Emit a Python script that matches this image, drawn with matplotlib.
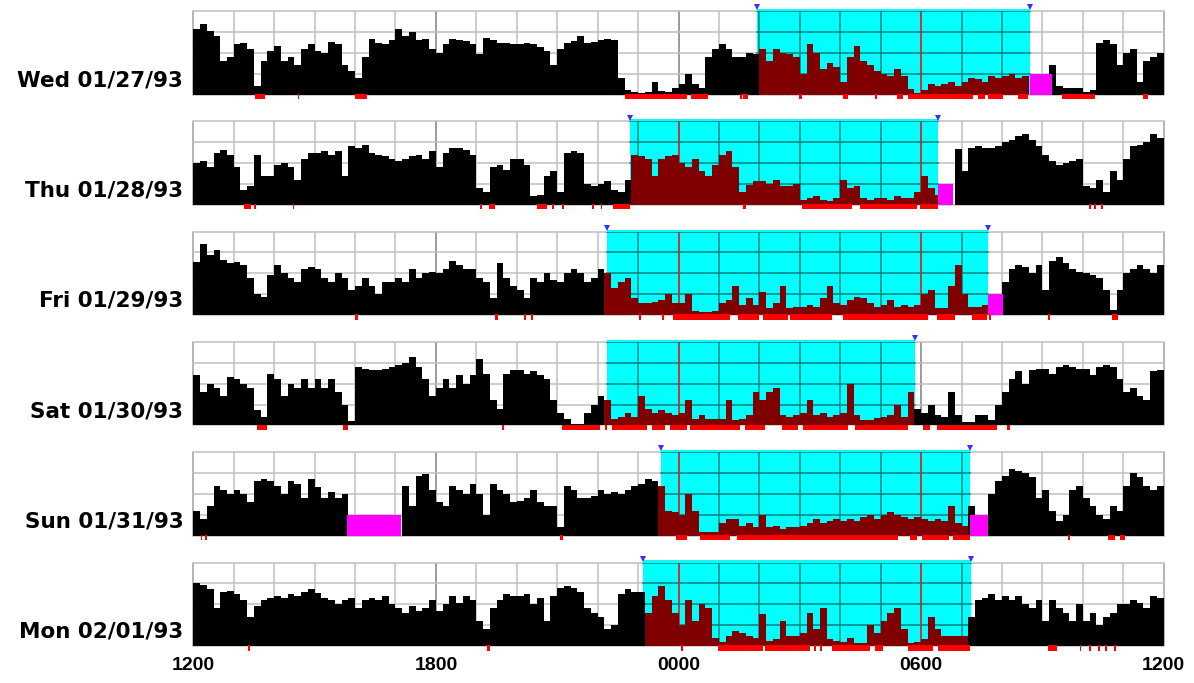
import matplotlib
matplotlib.use("Agg")
import matplotlib.pyplot as plt
from matplotlib.patches import Rectangle

# ---------------- data (hours after 12:00 noon, 10-minute bins) ----------------
day_labels = ["Wed 01/27/93", "Thu 01/28/93", "Fri 01/29/93",
              "Sat 01/30/93", "Sun 01/31/93", "Mon 02/01/93"]
tick_hours = [0, 6, 12, 18, 24]
tick_labels = ["1200", "1800", "0000", "0600", "1200"]

wed_counts = [
    78, 84, 76, 70, 40, 45,  60, 62, 55, 10, 40, 52,  58, 40, 45, 35, 55, 60,
    52, 50, 63, 60, 35, 28,  20, 45, 67, 62, 60, 65,  78, 70, 75, 65, 66, 55,
    50, 60, 66, 65, 64, 60,  48, 68, 65, 62, 62, 60,  60, 62, 60, 57, 52, 35,
    55, 62, 64, 70, 62, 63,  65, 66, 65, 20, 5, 3,    2, 3, 15, 4, 3, 8,
    12, 25, 12, 8, 45, 55,   60, 55, 45, 45, 50, 48,  55, 40, 55, 50, 48, 45,
    25, 60, 50, 30, 38, 33,  15, 45, 58, 40, 35, 28,  25, 22, 30, 22, 6, 2,
    5, 12, 10, 12, 15, 10,   15, 20, 18, 15, 22, 20,  22, 25, 20, 22, 0, 0,
    0, 35, 10, 8, 8, 8,      3, 5, 62, 65, 60, 35,    50, 55, 15, 40, 45, 50]
thu_counts = [
    50, 52, 45, 62, 66, 60,  45, 18, 22, 60, 35, 35,  48, 50, 45, 30, 55, 62,
    62, 65, 60, 65, 35, 70,  68, 72, 62, 60, 58, 55,  52, 55, 58, 60, 55, 65,
    45, 62, 68, 68, 66, 60,  20, 15, 45, 48, 42, 55,  55, 48, 10, 12, 35, 40,
    15, 62, 64, 62, 25, 22,  25, 28, 18, 15, 30, 60,  58, 55, 35, 55, 58, 60,
    50, 45, 55, 40, 35, 48,  60, 65, 45, 15, 24, 28,  28, 25, 30, 22, 22, 25,
    6, 8, 10, 6, 5, 8,       30, 20, 22, 8, 6, 8,     8, 6, 10, 8, 8, 15,
    35, 20, 12, 0, 0, 67,    40, 68, 70, 68, 68, 70,  75, 78, 82, 85, 78, 70,
    60, 52, 48, 50, 52, 55,  22, 20, 30, 15, 40, 30,  55, 70, 72, 75, 85, 80]
fri_counts = [
    64, 85, 72, 78, 66, 62,  64, 60, 45, 25, 22, 48,  60, 50, 45, 40, 55, 58,
    55, 45, 40, 50, 45, 30,  35, 45, 35, 25, 40, 40,  45, 40, 55, 45, 50, 52,
    50, 55, 65, 60, 55, 55,  45, 40, 20, 62, 45, 35,  30, 20, 45, 40, 50, 42,
    40, 50, 55, 50, 40, 45,  55, 50, 32, 40, 45, 20,  14, 14, 16, 18, 25, 15,
    15, 25, 5, 4, 4, 5,      15, 18, 35, 12, 20, 12,  28, 8, 15, 35, 8, 10,
    10, 12, 10, 20, 35, 15,  12, 18, 22, 20, 15, 10,  12, 18, 10, 12, 10, 12,
    25, 30, 8, 8, 35, 60,    25, 10, 10, 12, 0, 0,    40, 55, 60, 58, 50, 60,
    30, 65, 70, 62, 55, 52,  50, 48, 45, 30, 6, 30,   50, 55, 60, 55, 50, 60]
sat_counts = [
    60, 40, 50, 45, 35, 58,  55, 50, 45, 18, 10, 62,  55, 35, 50, 45, 55, 45,
    55, 45, 55, 40, 25, 5,   70, 68, 66, 66, 68, 70,  72, 75, 82, 70, 55, 35,
    45, 55, 45, 60, 50, 60,  80, 62, 30, 20, 62, 66,  66, 62, 65, 60, 55, 30,
    15, 8, 2, 2, 15, 25,     35, 30, 8, 10, 15, 10,   35, 20, 15, 18, 15, 12,
    15, 30, 8, 12, 8, 8,     8, 30, 6, 8, 12, 40,     30, 40, 45, 12, 10, 12,
    15, 30, 12, 15, 10, 12,  15, 50, 12, 7, 7, 9,     10, 12, 25, 10, 40, 20,
    15, 25, 12, 10, 40, 12,  4, 4, 12, 12, 6, 25,     40, 55, 65, 50, 66, 68,
    68, 62, 70, 72, 70, 68,  68, 60, 70, 72, 70, 55,  40, 45, 35, 30, 65, 66]
sun_counts = [
    30, 20, 35, 60, 55, 50,  55, 50, 40, 65, 68, 65,  60, 50, 65, 62, 45, 68,
    58, 45, 52, 45, 50, 0,   0, 0, 0, 0, 0, 0,        0, 60, 35, 72, 74, 55,
    40, 35, 60, 55, 50, 62,  50, 25, 62, 55, 50, 40,  42, 45, 55, 40, 35, 35,
    10, 60, 55, 45, 45, 48,  55, 50, 52, 50, 55, 60,  62, 68, 66, 60, 30, 28,
    25, 50, 30, 4, 4, 5,     15, 20, 20, 12, 15, 10,  25, 10, 12, 8, 10, 10,
    12, 15, 20, 15, 18, 20,  18, 20, 18, 22, 25, 20,  25, 28, 25, 22, 20, 22,
    20, 18, 20, 18, 35, 15,  12, 35, 0, 0, 50, 65,    72, 80, 78, 75, 70, 45,
    55, 30, 18, 25, 55, 60,  45, 35, 25, 20, 35, 30,  60, 75, 70, 60, 55, 60]
mon_counts = [
    75, 73, 68, 45, 65, 66,  62, 55, 35, 48, 55, 58,  60, 58, 62, 60, 65, 68,
    64, 58, 55, 50, 55, 58,  45, 55, 58, 55, 60, 50,  45, 40, 48, 42, 45, 55,
    42, 50, 60, 52, 60, 55,  30, 20, 45, 55, 62, 60,  60, 62, 50, 58, 30, 60,
    70, 72, 70, 65, 45, 40,  35, 20, 25, 62, 68, 65,  65, 40, 60, 72, 55, 40,
    25, 55, 30, 50, 45, 10,  5, 12, 18, 15, 12, 10,   38, 6, 8, 30, 12, 12,
    15, 40, 20, 45, 8, 6,    5, 10, 4, 4, 25, 15,     30, 40, 45, 20, 4, 5,
    8, 35, 20, 12, 12, 12,   12, 35, 55, 58, 62, 55,  60, 55, 60, 50, 45, 55,
    30, 55, 45, 40, 30, 50,  30, 40, 25, 35, 40, 50,  50, 55, 52, 45, 60, 58]
counts = [wed_counts, thu_counts, fri_counts, sat_counts, sun_counts, mon_counts]

rest_spans = [(13.93, 20.70), (10.80, 18.43), (10.24, 19.66),
              (10.24, 17.84), (11.57, 19.22), (11.13, 19.24)]
rest_markers = [(True, True), (True, True), (True, True),
                (False, True), (True, True), (True, True)]
offwrist_spans = [[(20.70, 21.23)], [(18.43, 18.78)], [(19.66, 20.03)],
                  [], [(3.81, 5.14), (19.22, 19.66)], []]
offwrist_level = 25
sleep_marks = [
    [(1.53, 1.78), (2.58, 2.62), (4.0, 4.3), (10.68, 12.2), (12.3, 12.73),
     (13.52, 13.56), (13.6, 13.72), (14.98, 15.06), (16.07, 16.2), (16.86, 16.9),
     (17.4, 17.55), (17.68, 19.29), (19.4, 19.57), (19.65, 20.03), (20.4, 20.65),
     (21.48, 22.3), (23.5, 23.6)],
    [(1.26, 1.43), (1.51, 1.55), (2.46, 2.5), (7.1, 7.14), (7.32, 7.47),
     (8.5, 8.75), (8.87, 8.93), (9.13, 9.17), (9.86, 9.9), (10.08, 10.12),
     (10.38, 10.8), (13.6, 13.67), (15.05, 16.3), (16.5, 17.9), (17.98, 18.43),
     (22.16, 22.2), (22.28, 22.32), (22.45, 22.49)],
    [(4.0, 4.08), (7.47, 7.54), (8.18, 8.22), (8.36, 8.4), (11.03, 11.07),
     (11.6, 11.64), (11.87, 13.27), (13.47, 14.0), (14.1, 14.7), (14.75, 15.8),
     (16.07, 18.18), (18.4, 18.85), (19.26, 19.63), (19.68, 19.72),
     (21.15, 21.19), (22.72, 22.87)],
    [(1.57, 1.82), (3.7, 3.83), (7.64, 7.68), (9.12, 10.07), (10.18, 10.22),
     (10.36, 11.22), (11.35, 11.67), (11.79, 12.2), (12.28, 13.52),
     (13.65, 14.14), (14.56, 14.96), (15.08, 16.2), (16.37, 17.68),
     (18.05, 18.22), (18.4, 19.88), (20.12, 20.2)],
    [(0.18, 0.22), (0.29, 0.33), (9.07, 9.15), (11.95, 12.2), (12.53, 13.28),
     (13.45, 17.43), (17.73, 17.9), (18.03, 18.68), (18.79, 19.22),
     (21.64, 21.68), (22.62, 22.79), (22.92, 23.05)],
    [(1.36, 1.4), (7.27, 7.35), (12.06, 12.1), (12.98, 14.1), (14.14, 15.25),
     (15.35, 15.39), (15.5, 15.54), (15.8, 16.74), (16.86, 17.06),
     (17.68, 18.29), (18.42, 19.21), (21.14, 21.36), (21.92, 21.96),
     (22.16, 22.2), (22.38, 22.42), (22.56, 22.6), (22.78, 22.82)],
]

# ---------------- layout ----------------
W, H = 1194, 683
fig = plt.figure(figsize=(W / 100, H / 100), dpi=100)
fig.patch.set_facecolor("white")
left_px, right_px = 193.3, 1163.7
top0, pitch, ph = 11.0, 110.3, 83.5
bin_w = 1.0 / 6.0

GRID = "#c0c0c0"
GRID6 = "#808080"
TEAL = "#008080"
CYAN = "#00ffff"
BROWN = "#800000"
RED = "#ff0000"
MAGENTA = "#ff00ff"

for i in range(6):
    top = top0 + pitch * i
    ax = fig.add_axes([left_px / W, 1 - (top + ph) / H,
                       (right_px - left_px) / W, ph / H])
    ax.set_xlim(0, 24)
    ax.set_ylim(0, 100)
    ax.axis("off")

    s, e = rest_spans[i]
    # background grid
    for h in range(25):
        c = GRID6 if h in (6, 12, 18) else ("#a0a0a0" if h in (0, 24) else GRID)
        ax.plot([h, h], [0, 100], color=c, lw=1.1, zorder=1,
                solid_capstyle="butt", clip_on=False)
    for y in (0, 25, 50, 75, 100):
        ax.plot([0, 24], [y, y], color=GRID, lw=1.1, zorder=1, clip_on=False)

    # rest interval
    ax.add_patch(Rectangle((s, 0), e - s, 102.5, facecolor=CYAN,
                           edgecolor="none", zorder=2, clip_on=False))
    for h in range(25):
        if s < h < e:
            col = RED if h in (12, 18) else TEAL
            ax.plot([h, h], [0, 100], color=col, lw=1.1, zorder=3,
                    solid_capstyle="butt")
    for y in (25, 50, 75, 100):
        ax.plot([s, e], [y, y], color=TEAL, lw=1.1, zorder=3)
    ls, rs = rest_markers[i]
    if ls:
        ax.plot([s], [104.5], marker="v", color="#3030ff", ms=5, mew=0,
                zorder=7, clip_on=False)
    if rs:
        ax.plot([e], [104.5], marker="v", color="#3030ff", ms=5, mew=0,
                zorder=7, clip_on=False)

    # activity bars
    vals = counts[i]
    xs = [k * bin_w for k in range(len(vals))]
    cols = [BROWN if s <= x + bin_w / 2 <= e else "black" for x in xs]
    ax.bar(xs, vals, width=bin_w, align="edge", color=cols,
           linewidth=0, zorder=4)

    # off-wrist
    for (a, b) in offwrist_spans[i]:
        ax.bar([a], [offwrist_level], width=b - a, align="edge",
               color=MAGENTA, linewidth=0, zorder=5)

    # sleep markers under the baseline
    for (a, b) in sleep_marks[i]:
        ax.add_patch(Rectangle((a, -5.5), b - a, 6.5, facecolor=RED,
                               edgecolor="none", zorder=6, clip_on=False))

    ax.annotate(day_labels[i], xy=(0, 0.17), xycoords="axes fraction",
                xytext=(-10, 0), textcoords="offset pixels",
                ha="right", va="center", fontsize=15.5, fontweight="bold",
                family="DejaVu Sans")

    if i == 5:
        for h, lab in zip(tick_hours, tick_labels):
            ax.annotate(lab, xy=(h, 0), xycoords=("data", "axes fraction"),
                        xytext=(0, -19), textcoords="offset pixels",
                        ha="center", va="center", fontsize=14,
                        fontweight="bold", family="Liberation Sans")

fig.savefig("out.png", dpi=100, facecolor="white")
